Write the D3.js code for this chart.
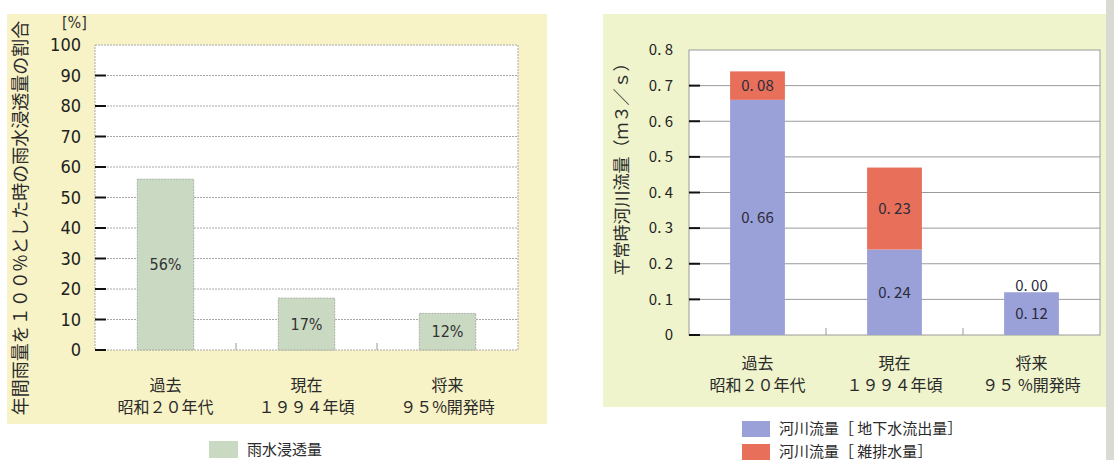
<!DOCTYPE html>
<html>
<head>
<meta charset="utf-8">
<script src="https://cdn.jsdelivr.net/npm/d3@7"></script>
<style>
  html, body { margin: 0; padding: 0; background: #ffffff; }
  svg { display: block; }
</style>
</head>
<body>
<svg id="chart" width="1114" height="460"></svg>
<script>
// ---- data ----
const leftCategories = [["過去", "昭和２０年代"], ["現在", "１９９４年頃"], ["将来", "９５%開発時"]];
const rightCategories = [["過去", "昭和２０年代"], ["現在", "１９９４年頃"], ["将来", "９５ %開発時"]];
const infiltration = [56, 17, 12];              // 雨水浸透量 [%]
const groundwaterFlow = [0.66, 0.24, 0.12];     // 河川流量[地下水流出量]
const wastewaterFlow = [0.08, 0.23, 0.00];      // 河川流量[雑排水量]
const leftTicks = [0, 10, 20, 30, 40, 50, 60, 70, 80, 90, 100];
const rightTicks = [0, 0.1, 0.2, 0.3, 0.4, 0.5, 0.6, 0.7, 0.8];
const rightTickLabels = ["0", "0. 1", "0. 2", "0. 3", "0. 4", "0. 5", "0. 6", "0. 7", "0. 8"];
const leftSeriesName = "雨水浸透量";
const rightSeriesNames = ["河川流量［ 地下水流出量］", "河川流量［ 雑排水量］"];

const JP = "'Noto Sans CJK JP', 'Noto Sans', sans-serif";
const NARROW = "'Liberation Sans Narrow', 'DejaVu Sans Condensed', 'Roboto', sans-serif";
const svg = d3.select("#chart");

// ================= left panel: 雨水浸透量 =================
svg.append("rect").attr("x", 7).attr("y", 14).attr("width", 540).attr("height", 410)
  .attr("fill", "#f7f3c6");

const L = { left: 95, right: 518, top: 45, bottom: 350 };
const xL = d3.scaleBand().domain(d3.range(leftCategories.length))
  .range([L.left, L.right]).paddingInner(0.6).paddingOuter(0.3);
const yL = d3.scaleLinear().domain([0, 100]).range([L.bottom, L.top]);

const gL = svg.append("g");
gL.append("rect").attr("x", L.left).attr("y", L.top)
  .attr("width", L.right - L.left).attr("height", L.bottom - L.top)
  .attr("fill", "#ffffff").attr("stroke", "#a8a8a8").attr("stroke-dasharray", "2,1");

gL.selectAll("line.grid").data(leftTicks.slice(1, -1)).join("line")
  .attr("class", "grid")
  .attr("x1", L.left).attr("x2", L.right)
  .attr("y1", d => yL(d)).attr("y2", d => yL(d))
  .attr("stroke", "#a8a8a8").attr("stroke-dasharray", "2,1");

// y axis: labels + short inward ticks
const axL = gL.append("g").attr("transform", `translate(${L.left},0)`)
  .call(d3.axisLeft(yL).tickValues(leftTicks).tickSize(0).tickPadding(14));
axL.select(".domain").remove();
axL.selectAll("text").attr("font-family", NARROW).attr("font-size", 18).attr("fill", "#222");
gL.selectAll("line.ytick").data(leftTicks.slice(0, -1)).join("line")
  .attr("class", "ytick")
  .attr("x1", L.left).attr("x2", L.left + 11)
  .attr("y1", d => yL(d)).attr("y2", d => yL(d))
  .attr("stroke", "#111").attr("stroke-width", 2);

// small category separators on the baseline
gL.selectAll("line.xsep").data(d3.range(1, leftCategories.length)).join("line")
  .attr("class", "xsep")
  .attr("x1", i => L.left + (L.right - L.left) * i / leftCategories.length)
  .attr("x2", i => L.left + (L.right - L.left) * i / leftCategories.length)
  .attr("y1", L.bottom - 7).attr("y2", L.bottom)
  .attr("stroke", "#999");

gL.selectAll("rect.bar").data(infiltration).join("rect")
  .attr("class", "bar")
  .attr("x", (d, i) => xL(i)).attr("width", xL.bandwidth())
  .attr("y", d => yL(d)).attr("height", d => yL(0) - yL(d))
  .attr("fill", "#cad9c2").attr("stroke", "#a9b0a4").attr("stroke-dasharray", "2,1");

gL.selectAll("text.val").data(infiltration).join("text")
  .attr("class", "val")
  .attr("x", (d, i) => xL(i) + xL.bandwidth() / 2)
  .attr("y", d => (yL(d) + yL(0)) / 2)
  .attr("dy", "0.35em").attr("text-anchor", "middle")
  .attr("font-family", NARROW).attr("font-size", 16).attr("fill", "#333")
  .text(d => d + "%");

gL.append("text").attr("x", 62).attr("y", 28)
  .attr("font-family", NARROW).attr("font-size", 16).attr("fill", "#333").text("[%]");

leftCategories.forEach((lines, i) => {
  const t = gL.append("text").attr("text-anchor", "middle")
    .attr("font-family", JP).attr("font-size", 16).attr("fill", "#2a2a2a");
  lines.forEach((s, k) => t.append("tspan")
    .attr("x", xL(i) + xL.bandwidth() / 2).attr("y", 391 + k * 22).text(s));
});

gL.append("text")
  .attr("transform", "translate(27,218) rotate(-90)")
  .attr("text-anchor", "middle")
  .attr("font-family", JP).attr("font-size", 18).attr("fill", "#2a2a2a")
  .text("年間雨量を１００%とした時の雨水浸透量の割合");

// legend
gL.append("rect").attr("x", 209).attr("y", 441).attr("width", 29).attr("height", 17).attr("fill", "#cad9c2");
gL.append("text").attr("x", 247).attr("y", 455)
  .attr("font-family", JP).attr("font-size", 15).attr("fill", "#2a2a2a").text(leftSeriesName);

// ================= right panel: 平常時河川流量 =================
svg.append("rect").attr("x", 603).attr("y", 14).attr("width", 503).attr("height", 393)
  .attr("fill", "#eff4cc");
svg.append("rect").attr("x", 1106).attr("y", 0).attr("width", 8).attr("height", 460)
  .attr("fill", "#d9dbd3");

const R = { left: 689, right: 1100, top: 50, bottom: 335 };
const xR = d3.scaleBand().domain(d3.range(rightCategories.length))
  .range([R.left, R.right]).paddingInner(0.6).paddingOuter(0.3);
const yR = d3.scaleLinear().domain([0, 0.8]).range([R.bottom, R.top]);

const gR = svg.append("g");
gR.append("rect").attr("x", R.left).attr("y", R.top)
  .attr("width", R.right - R.left).attr("height", R.bottom - R.top)
  .attr("fill", "#ffffff").attr("stroke", "#9a9a9a");

gR.selectAll("line.grid").data(rightTicks.slice(1, -1)).join("line")
  .attr("class", "grid")
  .attr("x1", R.left).attr("x2", R.right)
  .attr("y1", d => yR(d)).attr("y2", d => yR(d))
  .attr("stroke", "#9a9a9a");

const axR = gR.append("g").attr("transform", `translate(${R.left},0)`)
  .call(d3.axisLeft(yR).tickValues(rightTicks).tickSize(0).tickPadding(16)
    .tickFormat((d, i) => rightTickLabels[i]));
axR.select(".domain").remove();
axR.selectAll("text").attr("font-family", JP).attr("font-size", 15).attr("fill", "#222");
gR.selectAll("line.ytick").data(rightTicks.slice(0, -1)).join("line")
  .attr("class", "ytick")
  .attr("x1", R.left).attr("x2", R.left + 11)
  .attr("y1", d => yR(d)).attr("y2", d => yR(d))
  .attr("stroke", "#111").attr("stroke-width", 2);

gR.selectAll("line.xsep").data(d3.range(1, rightCategories.length)).join("line")
  .attr("class", "xsep")
  .attr("x1", i => R.left + (R.right - R.left) * i / rightCategories.length)
  .attr("x2", i => R.left + (R.right - R.left) * i / rightCategories.length)
  .attr("y1", R.bottom - 7).attr("y2", R.bottom)
  .attr("stroke", "#999");

// stacked bars
const stackRows = groundwaterFlow.map((g, i) => ({ i, ground: g, waste: wastewaterFlow[i] }));
const stacked = d3.stack().keys(["ground", "waste"])(stackRows);
const colorsR = ["#9aa0d8", "#e86f5a"];
stacked.forEach((layer, li) => {
  gR.selectAll(`rect.s${li}`).data(layer).join("rect")
    .attr("class", `s${li}`)
    .attr("x", d => xR(d.data.i)).attr("width", xR.bandwidth())
    .attr("y", d => yR(d[1])).attr("height", d => yR(d[0]) - yR(d[1]))
    .attr("fill", colorsR[li]);
});
stacked.forEach((layer, li) => {
  gR.selectAll(`text.v${li}`).data(layer).join("text")
    .attr("class", `v${li}`)
    .attr("x", d => xR(d.data.i) + xR.bandwidth() / 2)
    .attr("y", d => {
      const h = yR(d[0]) - yR(d[1]);
      return h < 16 ? yR(d[1]) - 7 : (yR(d[0]) + yR(d[1])) / 2;
    })
    .attr("dy", "0.35em").attr("text-anchor", "middle")
    .attr("font-family", JP).attr("font-size", 15).attr("fill", "#2b2b3a")
    .text(d => { const v = d[1] - d[0]; return "0. " + String(Math.round(v * 100)).padStart(2, "0"); });
});

rightCategories.forEach((lines, i) => {
  const t = gR.append("text").attr("text-anchor", "middle")
    .attr("font-family", JP).attr("font-size", 16).attr("fill", "#2a2a2a");
  lines.forEach((s, k) => t.append("tspan")
    .attr("x", xR(i) + xR.bandwidth() / 2).attr("y", 369 + k * 22).text(s));
});

gR.append("text")
  .attr("transform", "translate(628,165) rotate(-90)")
  .attr("text-anchor", "middle")
  .attr("font-family", JP).attr("font-size", 17).attr("fill", "#2a2a2a")
  .text("平常時河川流量（ｍ３／ｓ）");

// legend
rightSeriesNames.forEach((name, k) => {
  gR.append("rect").attr("x", 742).attr("y", 421 + k * 23).attr("width", 28).attr("height", 16)
    .attr("fill", colorsR[k]);
  gR.append("text").attr("x", 779).attr("y", 434 + k * 23)
    .attr("font-family", JP).attr("font-size", 15).attr("fill", "#2a2a2a").text(name);
});
</script>
</body>
</html>
